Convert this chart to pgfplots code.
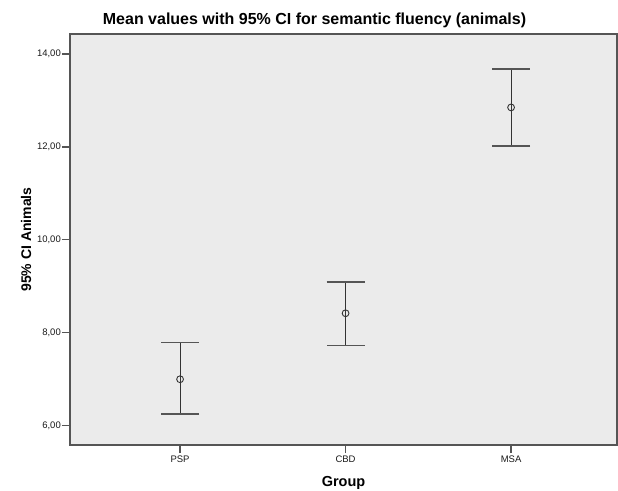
\documentclass[border=0pt]{standalone}
\usepackage{pgfplots}
\pgfplotsset{compat=1.18}
\usepackage{fontspec}
\setmainfont{Liberation Sans}
\definecolor{bgfill}{HTML}{EBEBEB}
\definecolor{frame}{HTML}{555555}
\definecolor{barline}{HTML}{333333}
\begin{document}
\begin{tikzpicture}
\begin{axis}[name=ax, at={(0,0)}, anchor=south west,
  scale only axis, width=547pt, height=411pt,
  xmin=0.335, xmax=3.64, ymin=5.585, ymax=14.43,
  xtick={1,2,3}, xticklabels={PSP,CBD,MSA},
  ytick={6,8,10,12,14},
  xtick pos=bottom, ytick pos=left,
  tick align=outside, major tick length=8pt,
  axis line style={frame, line width=1.4pt},
  every tick/.style={frame, line width=1.2pt},
  axis background/.style={fill=bgfill},
  /pgf/number format/.cd, fixed, fixed zerofill, precision=2, use comma, assume math mode=true,
  /pgfplots/.cd,
  tick label style={font=\fontsize{9.5}{11}\selectfont, text=black!90},
  yticklabel style={inner sep=1pt},
  xticklabel style={inner sep=3pt},
  title={Mean values with 95\% CI for semantic fluency (animals)},
  title style={font=\bfseries\fontsize{16}{19}\selectfont, at={(axis description cs:0.447,1)}, anchor=base, yshift=4pt},
  xlabel={Group},
  xlabel style={font=\bfseries\fontsize{14.5}{17}\selectfont, at={(axis description cs:0.5,0)}, anchor=center, yshift=-38pt},
  ylabel={95\% CI Animals},
  ylabel style={font=\bfseries\fontsize{14}{17}\selectfont, at={(axis description cs:0,0.5)}, anchor=center, yshift=44pt},
]
\addplot[only marks, mark=o, mark size=3.4pt, mark options={draw=barline, line width=0.9pt},
  error bars/.cd, y dir=both, y explicit,
  error bar style={barline, line width=1.1pt},
  error mark options={rotate=90, frame, line width=1.5pt, mark size=19pt}]
  coordinates {
    (1,7.00)  += (0,0.79) -= (0,0.75)
    (2,8.42)  += (0,0.67) -= (0,0.69)
    (3,12.85) += (0,0.83) -= (0,0.83)
  };
\end{axis}
\pgfresetboundingbox
\path[use as bounding box] (-70pt,-45pt) rectangle (548pt,445pt);
\end{tikzpicture}
\end{document}
